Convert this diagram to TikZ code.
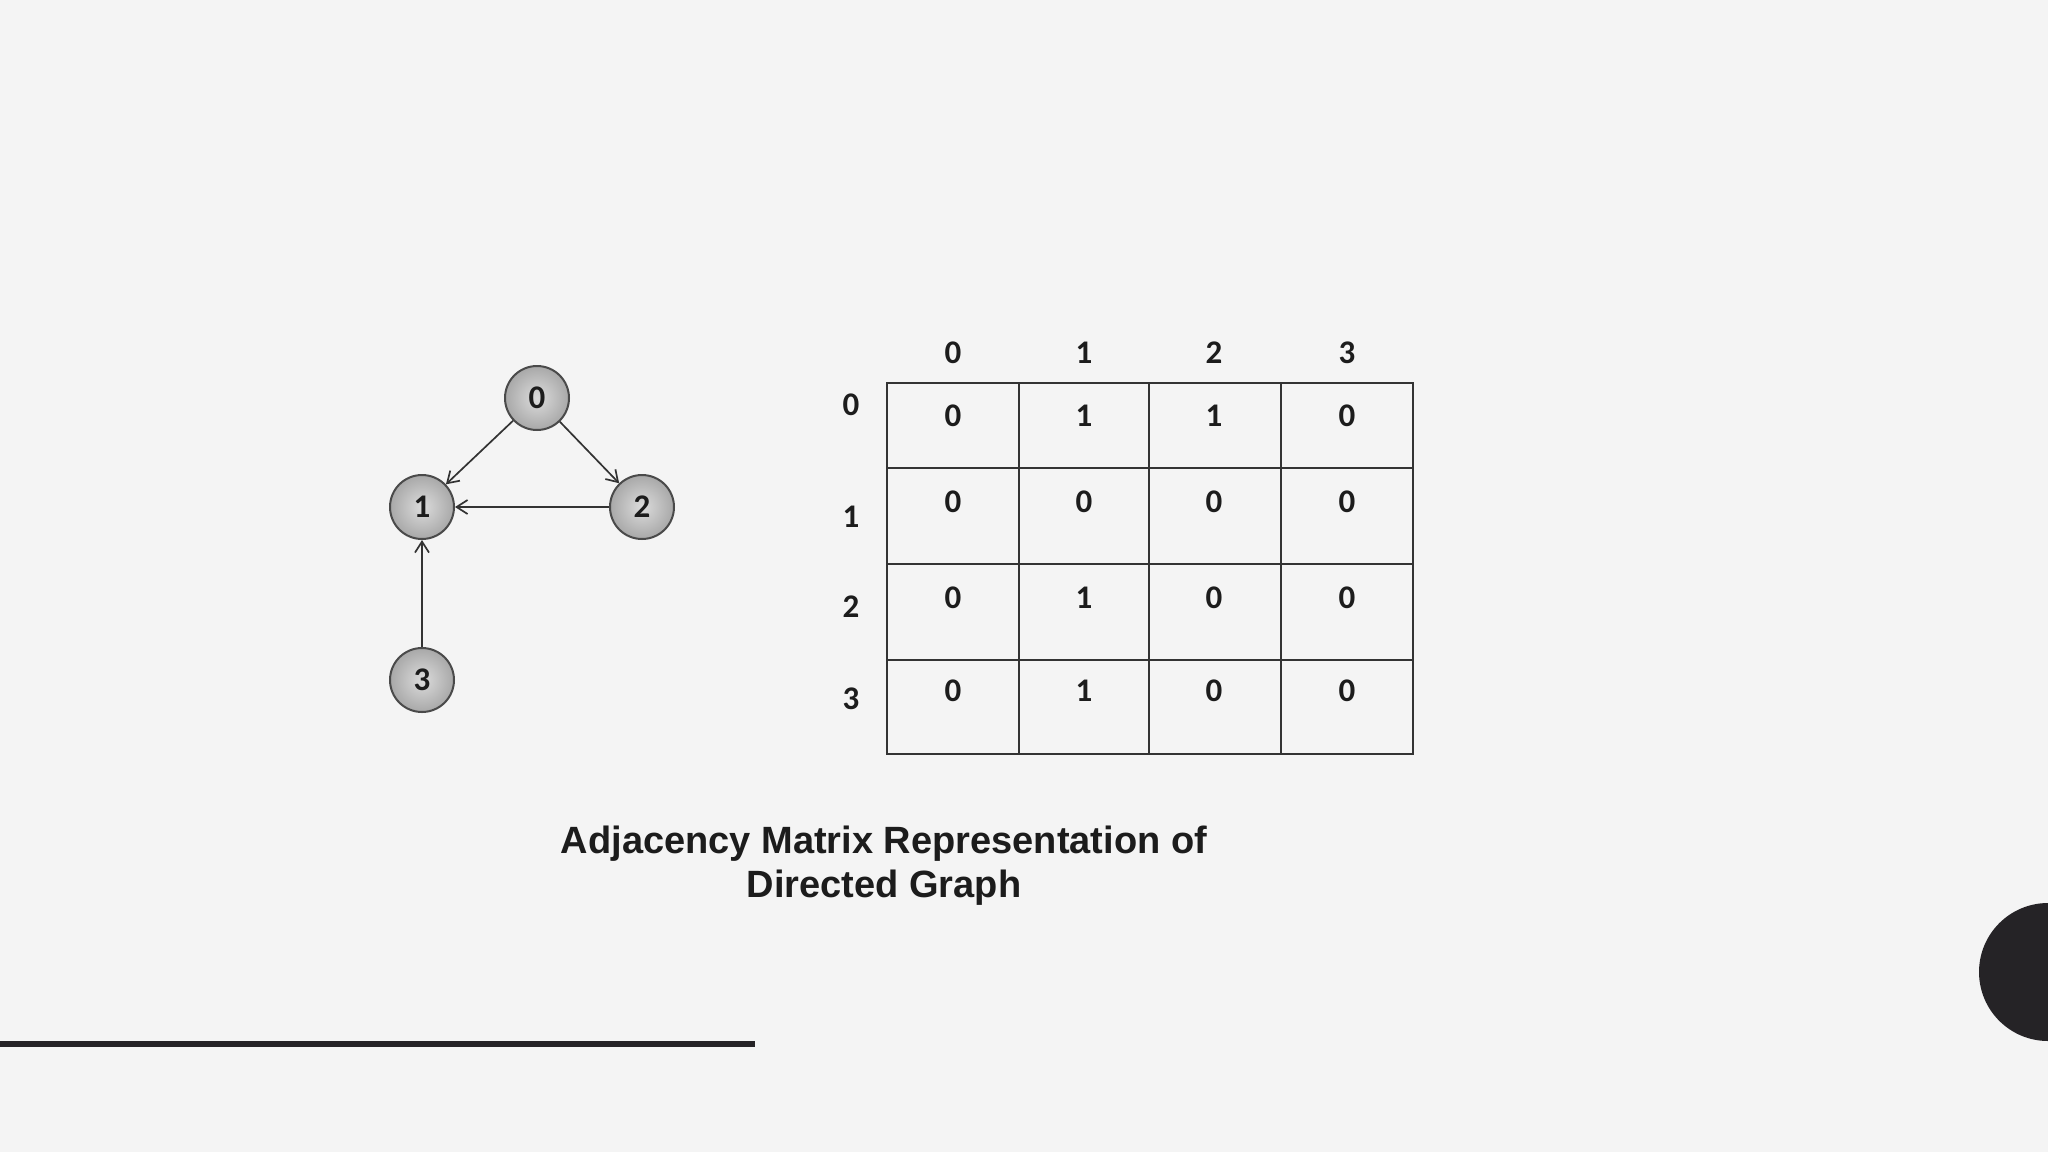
\documentclass[tikz,border=0pt]{standalone}
\usepackage{fontspec}
\setmainfont{Liberation Sans}
\newfontfamily\digitfont{Carlito}
\usetikzlibrary{arrows.meta}
\definecolor{bgc}{HTML}{F4F4F4}
\definecolor{inkc}{HTML}{1C1C1C}
\definecolor{darkc}{HTML}{252326}
\definecolor{gridc}{HTML}{333333}
\definecolor{nodein}{HTML}{DCDCDC}
\definecolor{nodeout}{HTML}{A8A8A8}
\definecolor{nodeline}{HTML}{4A4A4A}
\begin{document}
\begin{tikzpicture}[x=1pt,y=-1pt,
  gnode/.style={circle,minimum size=64pt,inner sep=0pt,draw=nodeline,line width=2pt,
    inner color=nodein,outer color=nodeout,text=inkc,font=\digitfont\bfseries\fontsize{33}{38}\selectfont},
  edge/.style={draw=gridc,line width=1.7pt,-{Straight Barb[length=11pt,width=14pt]}},
  dig/.style={text=inkc,inner sep=0pt,font=\digitfont\bfseries\fontsize{33}{38}\selectfont},
  gridl/.style={draw=gridc,line width=2pt},
  titlef/.style={text=inkc,align=center,font=\bfseries\fontsize{38}{44}\selectfont}]
\fill[bgc] (0,0) rectangle (2048,1152);
\useasboundingbox (0,0) rectangle (2048,1152);
% decorations
\begin{scope}
\clip (0,0) rectangle (2048,1152);
\fill[darkc] (2048,972) circle (69pt);
\end{scope}
\fill[darkc] (0,1041) rectangle (755,1047);
% graph
\node[gnode] (n0) at (537,398) {0};
\node[gnode] (n1) at (422,507) {1};
\node[gnode] (n2) at (642,507) {2};
\node[gnode] (n3) at (422,680) {3};
\draw[edge] (n0) -- (n1);
\draw[edge] (n0) -- (n2);
\draw[edge] (n2) -- (n1);
\draw[edge] (n3) -- (n1);
% matrix grid
\draw[gridl] (887,383) rectangle (1413,754);
\foreach \yy in {468,564,660} \draw[gridl] (887,\yy) -- (1413,\yy);
\foreach \xx in {1019,1149,1281} \draw[gridl] (\xx,383) -- (\xx,754);
% column headers
\foreach \v/\xx in {0/953,1/1084,2/1214,3/1347} \node[dig] (h\v) at (\xx,353) {\v};
% row labels
\foreach \v/\yy in {0/405,1/517,2/607,3/699} \node[dig] (r\v) at (851,\yy) {\v};
% cells
\foreach \yy [count=\r from 0] in {416,502,598,691} {
  \foreach \xx [count=\c from 0] in {953,1084,1214,1347} {
    \pgfmathtruncatemacro{\val}{(\r==0 && (\c==1 || \c==2)) || ((\r==2 || \r==3) && \c==1) ? 1 : 0}
    \node[dig] (c\r\c) at (\xx,\yy) {\val};
  }
}
% title
\node[titlef] (title) at (884,866) {Adjacency Matrix Representation of\\Directed Graph};
\end{tikzpicture}
\end{document}
